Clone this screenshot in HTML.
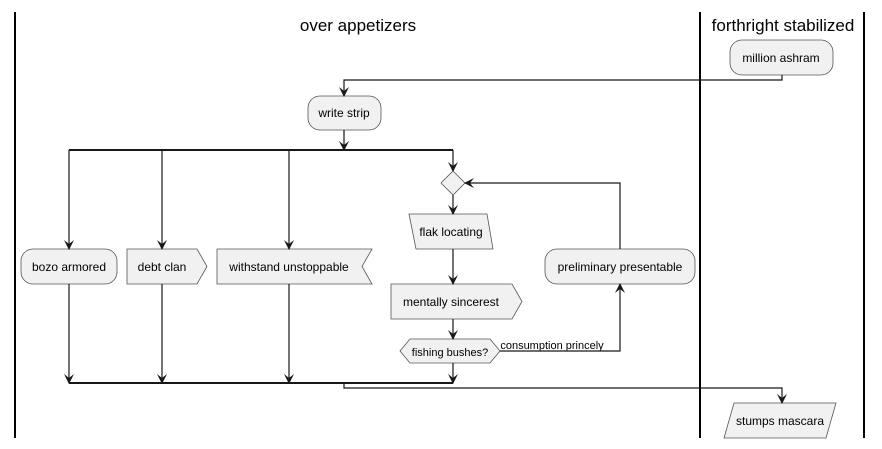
<!DOCTYPE html>
<html><head><style>body{margin:0;background:#fff}svg{display:block}</style></head><body>
<svg width="882" height="449" xmlns="http://www.w3.org/2000/svg" font-family="Liberation Sans, sans-serif">
<defs><marker id="a" viewBox="0 0 10 10" refX="9" refY="5" markerWidth="10" markerHeight="10" orient="auto" markerUnits="userSpaceOnUse"><path d="M0,0 L10,5 L0,10 L4,5 Z" fill="#181818"/></marker></defs>
<g stroke="#000" stroke-width="2"><line x1="15" y1="12" x2="15" y2="438"/><line x1="700" y1="12" x2="700" y2="438"/><line x1="864" y1="12" x2="864" y2="438"/></g>
<text x="358" y="31" font-size="17" text-anchor="middle">over appetizers</text>
<text x="783" y="31" font-size="17" text-anchor="middle">forthright stabilized</text>
<g fill="#f1f1f1" stroke="#555" stroke-width="0.8">
<rect x="730" y="40" width="103" height="35" rx="12"/>
<rect x="308" y="96" width="73" height="34" rx="12"/>
<rect x="21" y="249" width="96" height="35" rx="12"/>
<path d="M127,249 H197 L207,266.5 L197,284 H127 Z"/>
<path d="M217,249 H372 L362,266.5 L372,284 H217 Z"/>
<path d="M453,171 L465,183 L453,195 L441,183 Z"/>
<path d="M409,214 H487 L493,249 H416 Z"/>
<path d="M391,284 H512 L522,301.5 L512,319 H391 Z"/>
<path d="M410,339 H490 L500,351 L490,363 H410 L400,351 Z"/>
<rect x="545" y="249" width="150" height="35" rx="12"/>
<path d="M734,403 H836 L826,438 H724 Z"/>
</g>
<g font-size="12" text-anchor="middle" fill="#000">
<text x="781" y="62">million ashram</text>
<text x="344" y="117">write strip</text>
<text x="69" y="271">bozo armored</text>
<text x="162" y="271">debt clan</text>
<text x="289" y="271">withstand unstoppable</text>
<text x="451" y="236">flak locating</text>
<text x="451" y="306">mentally sincerest</text>
<text x="450" y="356" font-size="11">fishing bushes?</text>
<text x="620" y="271">preliminary presentable</text>
<text x="780" y="425">stumps mascara</text>
<text x="552" y="349" font-size="11">consumption princely</text>
</g>
<g stroke="#181818" stroke-width="1.2" fill="none">
<path d="M782,75 V80 H344 V96" marker-end="url(#a)"/>
<line x1="344" y1="130" x2="344" y2="150" marker-end="url(#a)"/>
<line x1="69" y1="150" x2="453" y2="150" stroke-width="2"/>
<line x1="69" y1="150" x2="69" y2="249" marker-end="url(#a)"/>
<line x1="162" y1="150" x2="162" y2="249" marker-end="url(#a)"/>
<line x1="289" y1="150" x2="289" y2="249" marker-end="url(#a)"/>
<line x1="453" y1="150" x2="453" y2="171" marker-end="url(#a)"/>
<line x1="453" y1="195" x2="453" y2="214" marker-end="url(#a)"/>
<line x1="453" y1="249" x2="453" y2="284" marker-end="url(#a)"/>
<line x1="453" y1="319" x2="453" y2="339" marker-end="url(#a)"/>
<path d="M500,351 H620 V284" marker-end="url(#a)"/>
<path d="M620,249 V183 H465" marker-end="url(#a)"/>
<line x1="69" y1="284" x2="69" y2="383" marker-end="url(#a)"/>
<line x1="162" y1="284" x2="162" y2="383" marker-end="url(#a)"/>
<line x1="289" y1="284" x2="289" y2="383" marker-end="url(#a)"/>
<path d="M453,363 V383" marker-end="url(#a)"/>
<line x1="69" y1="383" x2="453" y2="383" stroke-width="2"/>
<path d="M344,383 V388 H782 V403" marker-end="url(#a)"/>
</g>
</svg>
</body></html>
